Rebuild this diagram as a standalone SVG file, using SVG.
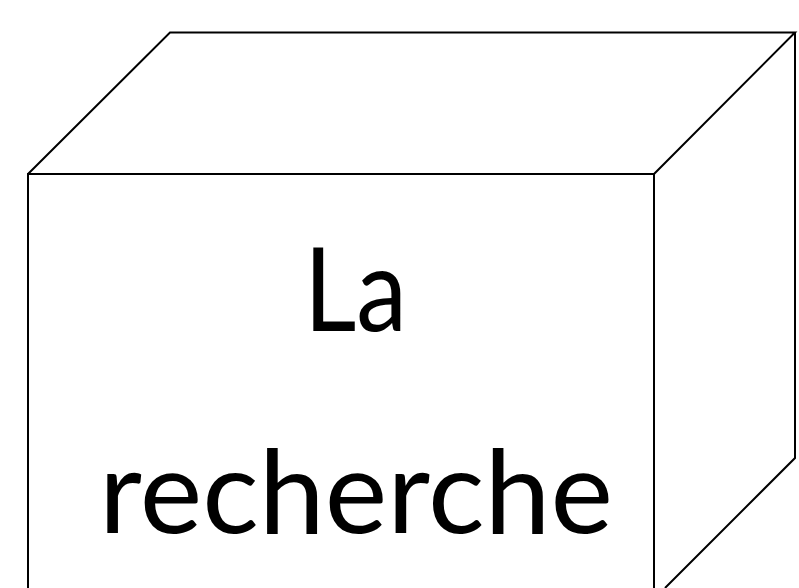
<svg xmlns="http://www.w3.org/2000/svg" width="799" height="588" viewBox="0 0 799 588">
<style>
.edge{fill:none;stroke:#000;stroke-width:2;stroke-linejoin:miter}
.lbl{font-family:Lato,"Open Sans","Liberation Sans",sans-serif;font-size:117px;fill:#000}
</style>
<rect width="799" height="588" fill="#fff"/>
<g id="cube">
<path class="edge" d="M28,600 L28,174 L654,174 L654,600"/>
<path class="edge" d="M28,174 L170,32.5 L795,32.5 L654,174"/>
<path class="edge" d="M795,32.5 L795,458 L665,588"/>
<text class="lbl" x="304" y="331" textLength="103" lengthAdjust="spacingAndGlyphs">La</text>
<text class="lbl" x="99" y="533" textLength="514" lengthAdjust="spacingAndGlyphs">recherche</text>
</g>
</svg>
